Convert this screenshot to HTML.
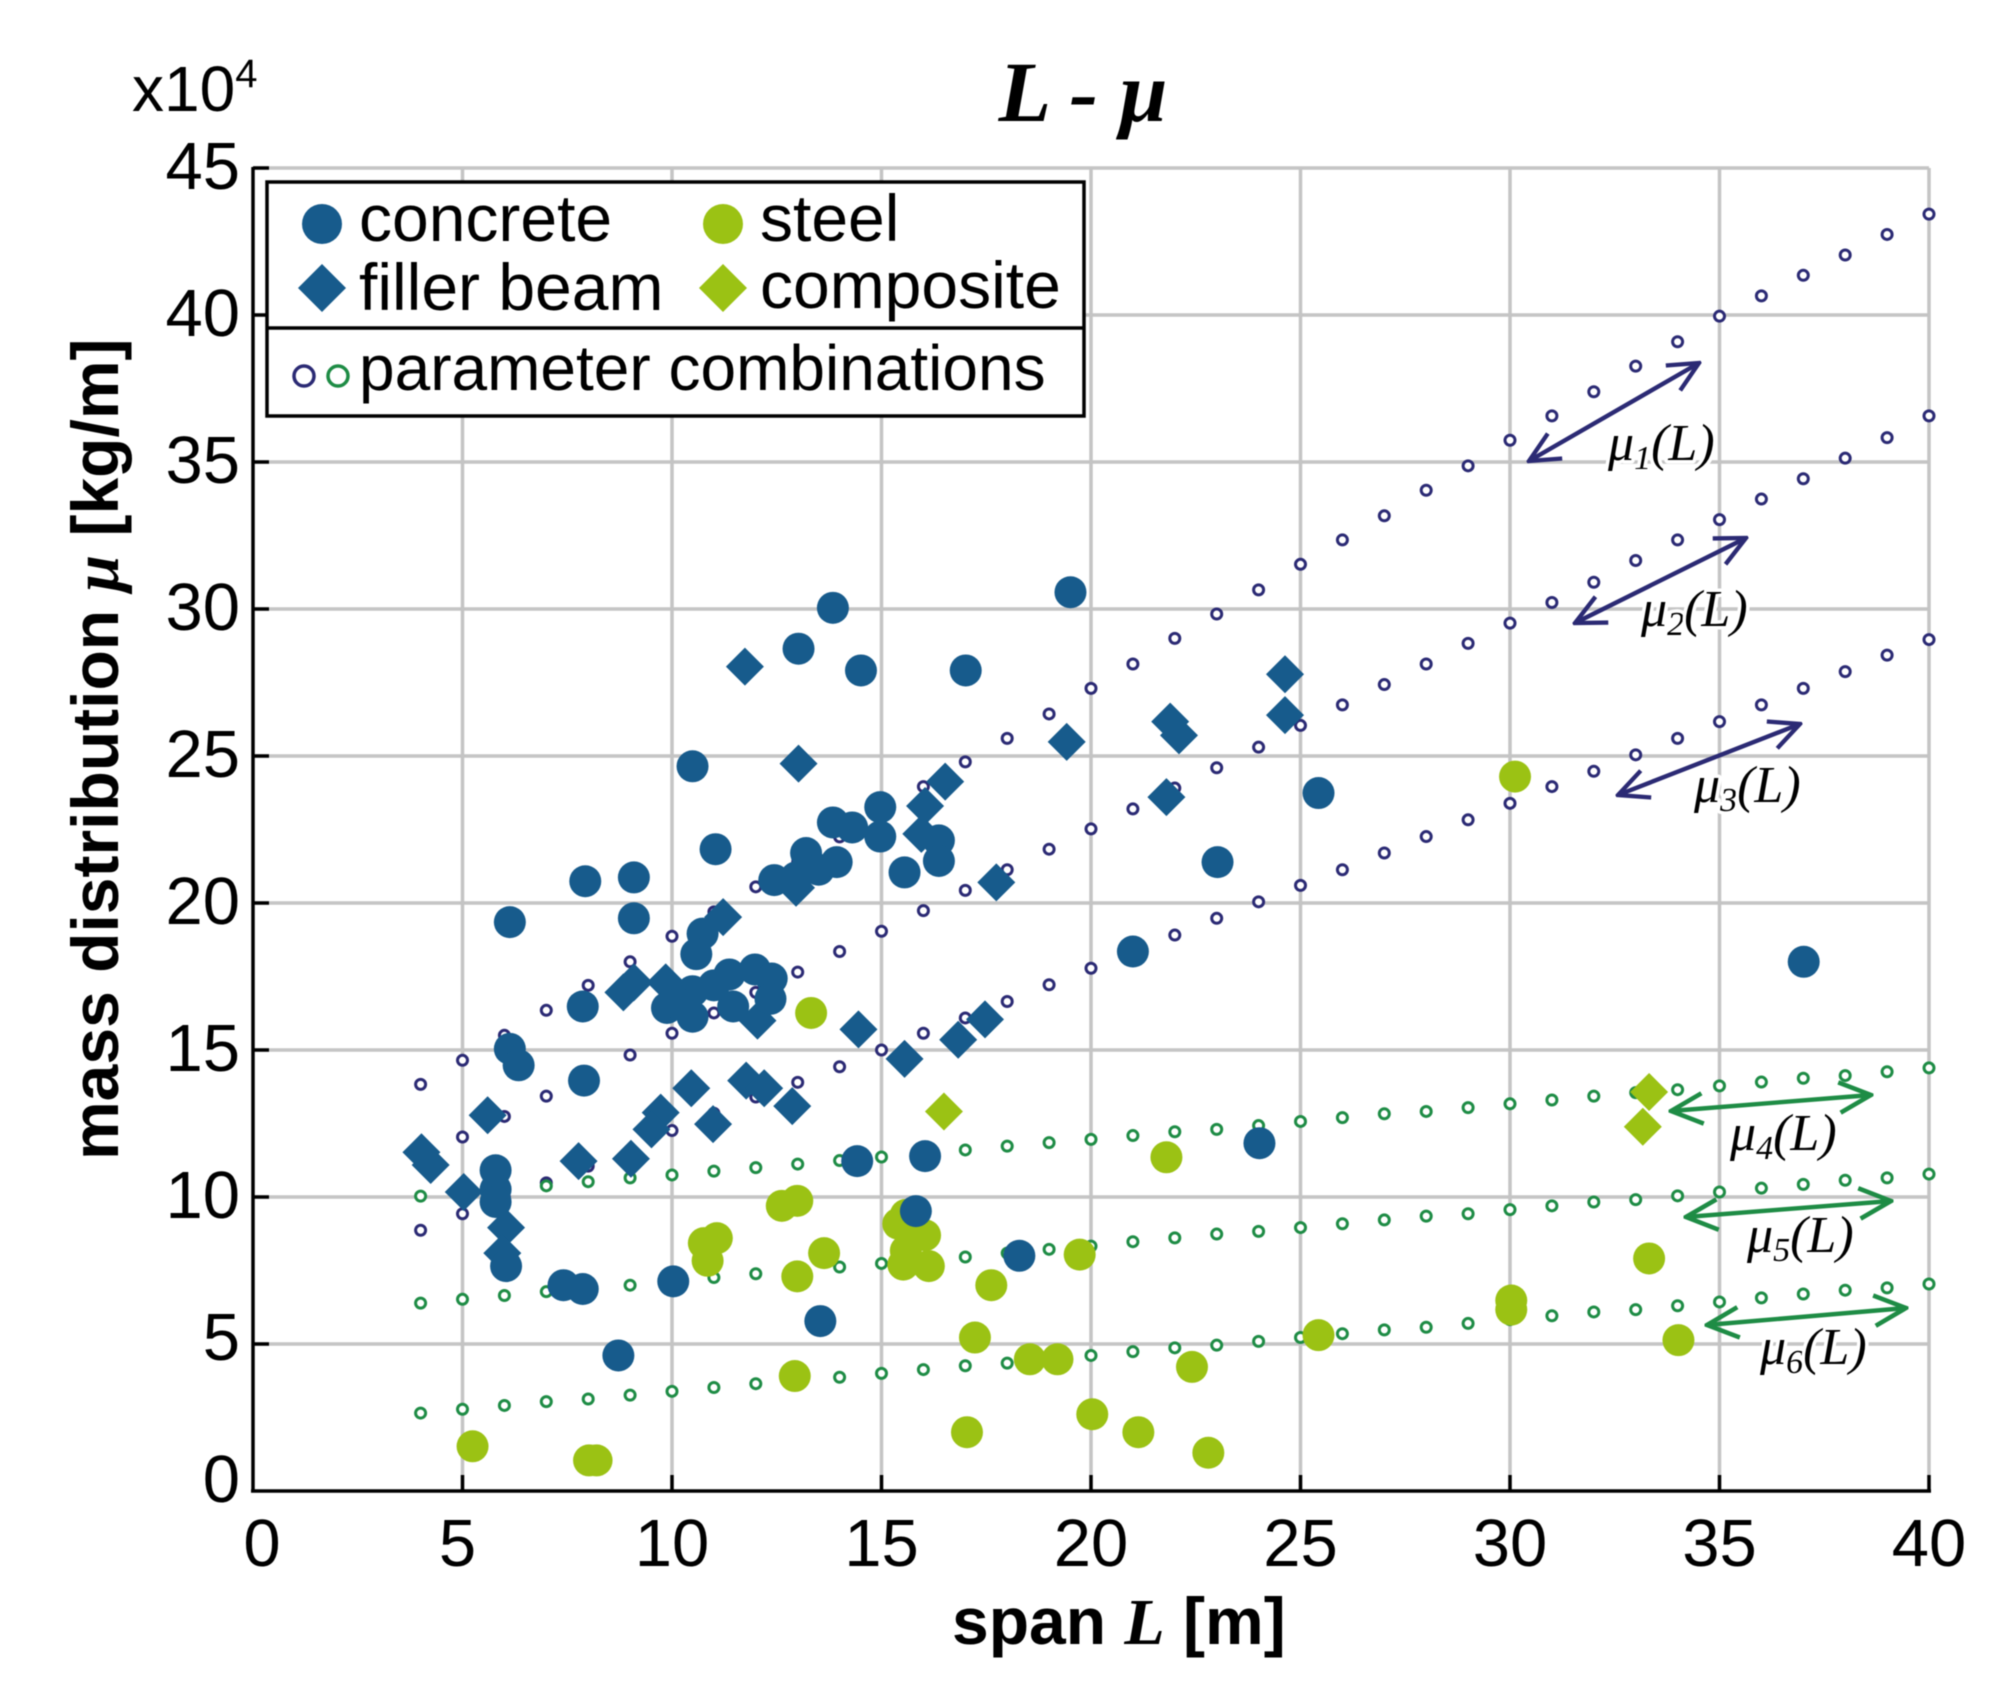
<!DOCTYPE html>
<html lang="en">
<head>
<meta charset="utf-8">
<title>L - mu chart</title>
<style>
html,body{margin:0;padding:0;background:#fff;}
svg{display:block;filter:blur(0.6px);}
text{font-family:"Liberation Sans",sans-serif;fill:#000;}
.tick{font-size:67px;}
.serif{font-family:"Liberation Serif",serif;font-style:italic;}
.leg{font-size:66px;}
.leg-long{font-size:64px;}
.curve-label{font-family:"Liberation Serif",serif;font-style:italic;font-size:52px;stroke:#fff;stroke-width:7px;paint-order:stroke;stroke-linejoin:round;}
</style>
</head>
<body>
<svg id="chart" xmlns="http://www.w3.org/2000/svg" width="2003" height="1702" viewBox="0 0 2003 1702">
  <defs>
    <marker id="navy-head" viewBox="0 0 30 30" refX="28" refY="15" markerWidth="36" markerHeight="36" markerUnits="userSpaceOnUse" orient="auto-start-reverse"><path d="M3 3 L28 15 L3 27" fill="none" stroke="#2b2a74" stroke-width="3.6"/></marker>
    <marker id="green-head" viewBox="0 0 30 30" refX="28" refY="15" markerWidth="38" markerHeight="38" markerUnits="userSpaceOnUse" orient="auto-start-reverse"><path d="M3 3 L28 15 L3 27" fill="none" stroke="#1e8c45" stroke-width="3.6"/></marker>
  </defs>
  <g id="grid"></g>
  <g id="params"></g>
  <g id="marks"></g>
  <g id="axes"></g>

  <g fill="none" stroke-width="4.4">
    <line x1="1529" y1="461" x2="1699" y2="363" stroke="#2b2a74" marker-start="url(#navy-head)" marker-end="url(#navy-head)"/>
    <line x1="1575" y1="623" x2="1746" y2="538" stroke="#2b2a74" marker-start="url(#navy-head)" marker-end="url(#navy-head)"/>
    <line x1="1618" y1="795" x2="1800" y2="724" stroke="#2b2a74" marker-start="url(#navy-head)" marker-end="url(#navy-head)"/>
    <line x1="1671" y1="1111" x2="1871" y2="1095" stroke="#1e8c45" marker-start="url(#green-head)" marker-end="url(#green-head)"/>
    <line x1="1686" y1="1217" x2="1891" y2="1201" stroke="#1e8c45" marker-start="url(#green-head)" marker-end="url(#green-head)"/>
    <line x1="1707" y1="1325" x2="1906" y2="1308" stroke="#1e8c45" marker-start="url(#green-head)" marker-end="url(#green-head)"/>
  </g>
  <g>
    <text class="curve-label" x="1608" y="460">μ<tspan dy="9" font-size="34">1</tspan><tspan dy="-9">(L)</tspan></text>
    <text class="curve-label" x="1641" y="626">μ<tspan dy="9" font-size="34">2</tspan><tspan dy="-9">(L)</tspan></text>
    <text class="curve-label" x="1694" y="802">μ<tspan dy="9" font-size="34">3</tspan><tspan dy="-9">(L)</tspan></text>
    <text class="curve-label" x="1730" y="1150">μ<tspan dy="9" font-size="34">4</tspan><tspan dy="-9">(L)</tspan></text>
    <text class="curve-label" x="1747" y="1252">μ<tspan dy="9" font-size="34">5</tspan><tspan dy="-9">(L)</tspan></text>
    <text class="curve-label" x="1760" y="1364">μ<tspan dy="9" font-size="34">6</tspan><tspan dy="-9">(L)</tspan></text>
  </g>

  <g>
    <rect x="267" y="182" width="817" height="234" fill="#fff" stroke="#000" stroke-width="3.5"/>
    <line x1="267" y1="328" x2="1084" y2="328" stroke="#000" stroke-width="3.5"/>
    <circle cx="322" cy="224" r="20" fill="#175b8c"/>
    <text class="leg" x="359" y="241">concrete</text>
    <circle cx="723" cy="224" r="20" fill="#9bc214"/>
    <text class="leg" x="760" y="241">steel</text>
    <polygon points="322,264 346,288 322,312 298,288" fill="#175b8c"/>
    <text class="leg" x="359" y="310">filler beam</text>
    <polygon points="723,264 747,288 723,312 699,288" fill="#9bc214"/>
    <text class="leg" x="760" y="308">composite</text>
    <circle cx="304" cy="376" r="10" fill="#fff" stroke="#2b2a74" stroke-width="3.5"/>
    <circle cx="338" cy="376" r="10" fill="#fff" stroke="#1e8c45" stroke-width="3.5"/>
    <text class="leg-long" x="359" y="390">parameter combinations</text>
  </g>

  <text x="1083" y="121" text-anchor="middle" font-size="86" font-weight="bold" class="serif">L - μ</text>
  <text x="132" y="111" font-size="64">x10<tspan font-size="40" dy="-24">4</tspan></text>
  <text transform="translate(118,1160) rotate(-90)" font-size="66" font-weight="bold">mass distribution <tspan class="serif">μ</tspan> [kg/m]</text>
  <text x="952" y="1644" font-size="66" font-weight="bold">span <tspan class="serif">L</tspan> [m]</text>
</svg>

<script>
const xTicks = [0, 5, 10, 15, 20, 25, 30, 35, 40];
const yTicks = [0, 5, 10, 15, 20, 25, 30, 35, 40, 45];
const spans = [4,5,6,7,8,9,10,11,12,13,14,15,16,17,18,19,20,21,22,23,24,25,26,27,28,29,30,31,32,33,34,35,36,37,38,39,40];

const mu1 = [13.83,14.65,15.5,16.35,17.2,18.0,18.87,19.7,20.55,21.4,22.25,23.1,23.96,24.8,25.6,26.43,27.3,28.13,29.0,29.83,30.65,31.52,32.35,33.17,34.04,34.87,35.74,36.57,37.39,38.26,39.09,39.96,40.65,41.35,42.04,42.74,43.43];
const mu2 = [11.3,12.04,12.74,13.43,14.13,14.83,15.57,16.26,16.96,17.65,18.35,19.04,19.74,20.43,21.13,21.83,22.52,23.2,23.91,24.6,25.3,26.04,26.74,27.43,28.13,28.83,29.52,30.22,30.91,31.65,32.35,33.04,33.74,34.43,35.13,35.83,36.57];
const mu3 = [8.87,9.43,10.0,10.48,11.05,11.6,12.26,12.85,13.4,13.9,14.43,15.0,15.57,16.09,16.65,17.22,17.78,18.33,18.91,19.48,20.04,20.6,21.13,21.7,22.26,22.83,23.39,23.96,24.48,25.04,25.6,26.17,26.74,27.3,27.87,28.43,28.96];
const mu4 = [10.03,10.1,10.2,10.38,10.52,10.65,10.75,10.88,11.0,11.12,11.24,11.36,11.48,11.6,11.73,11.85,11.96,12.09,12.22,12.3,12.43,12.57,12.7,12.83,12.91,13.04,13.17,13.3,13.43,13.55,13.65,13.78,13.91,14.04,14.13,14.26,14.39];
const mu5 = [6.39,6.52,6.65,6.78,6.9,7.0,7.13,7.26,7.39,7.5,7.62,7.74,7.87,7.96,8.09,8.22,8.33,8.48,8.61,8.74,8.83,8.96,9.09,9.22,9.35,9.43,9.57,9.7,9.83,9.91,10.04,10.17,10.3,10.43,10.57,10.65,10.78];
const mu6 = [2.65,2.78,2.91,3.04,3.13,3.26,3.39,3.52,3.65,3.78,3.87,4.0,4.13,4.26,4.35,4.48,4.61,4.74,4.87,4.96,5.09,5.22,5.35,5.48,5.57,5.7,5.83,5.96,6.09,6.17,6.3,6.43,6.57,6.7,6.83,6.91,7.04];

const concreteL = [13.84,19.51,13.02,14.51,17.01,10.49,25.43,13.84,14.97,14.30,14.97,16.37,15.55,16.37,13.2,12.44,12.96,13.5,13.93,7.93,9.09,6.13,9.09,11.04,10.73,10.58,23.02,21.0,37.01,11.37,11.98,12.38,12.35,11.46,7.87,9.88,10.49,10.49,10.15,11.0,6.13,6.34,7.9,14.42,16.04,24.02,5.79,5.79,5.79,15.82,6.04,18.29,7.41,7.87,10.03,13.54,8.72];
const concreteMu = [30.04,30.57,28.65,27.91,27.91,24.65,23.74,22.74,23.26,22.57,22.26,22.13,21.04,21.43,21.7,20.78,20.87,21.13,21.39,20.74,20.87,19.35,19.48,21.83,18.96,18.26,21.39,18.35,18.0,17.57,17.74,17.43,16.74,16.48,16.48,16.43,16.13,17.0,16.57,17.2,15.04,14.48,13.96,11.22,11.39,11.83,10.91,10.26,9.83,9.52,7.65,8.0,7.0,6.87,7.13,5.78,4.61];

const fillerL = [11.74,24.63,21.89,22.1,24.63,19.42,13.02,16.52,16.04,21.8,15.95,12.96,17.74,11.22,8.84,9.09,9.85,12.04,17.47,16.83,14.45,15.55,5.6,11.77,12.2,10.46,12.87,9.73,9.51,10.98,4.02,4.24,7.77,9.02,5.03,6.04,5.95];
const fillerMu = [28.04,27.78,26.17,25.7,26.39,25.48,24.74,24.13,23.3,23.6,22.35,20.52,20.7,19.52,16.96,17.3,17.3,16.0,16.04,15.35,15.7,14.7,12.78,13.96,13.7,13.7,13.09,12.87,12.3,12.48,11.52,11.09,11.22,11.3,10.17,8.96,8.09];

const steelL = [30.12,13.32,21.8,12.99,12.62,15.4,15.58,16.04,15.58,15.52,16.13,10.76,11.07,10.85,13.63,12.99,17.62,19.73,33.32,30.03,30.03,25.43,34.02,17.23,18.54,19.2,22.41,12.93,20.03,17.04,21.13,22.8,5.24,8.02,8.2];
const steelMu = [24.3,16.26,11.35,9.87,9.7,9.09,9.39,8.7,8.17,7.7,7.65,8.43,8.6,7.83,8.09,7.3,7.0,8.04,7.91,6.48,6.17,5.3,5.13,5.22,4.48,4.48,4.22,3.91,2.61,2.0,2.0,1.3,1.52,1.04,1.04];

const compositeL = [16.49,33.32,33.17];
const compositeMu = [12.91,13.57,12.39];

const SVG_NS = 'http://www.w3.org/2000/svg';
const xScale = function (v) { return 253 + v * 41.9; };
const yScale = function (v) { return 1491 - v * 29.4; };

function make(tag, parent, props) {
  const el = document.createElementNS(SVG_NS, tag);
  Object.keys(props).forEach(function (k) { el.setAttribute(k, props[k]); });
  parent.appendChild(el);
  return el;
}

const gridG = document.getElementById('grid');
const axesG = document.getElementById('axes');
const paramsG = document.getElementById('params');
const marksG = document.getElementById('marks');

xTicks.forEach(function (t) {
  if (t > 0) {
    const g = make('line', gridG, {x1: xScale(t), x2: xScale(t), y1: yScale(0), y2: yScale(45), stroke: '#c4c4c4', 'stroke-width': 3.5});
    
    
    const m = make('line', axesG, {x1: xScale(t), x2: xScale(t), y1: yScale(0), y2: yScale(0) - 16, stroke: '#000', 'stroke-width': 3.5});
    
    
  }
  const dx = t === 0 ? 9 : (t === 5 ? -5 : 0);
  const lab = make('text', axesG, {x: xScale(t) + dx, y: 1566, 'text-anchor': 'middle', class: 'tick'});
  lab.textContent = String(t);
  
  
});

yTicks.forEach(function (t) {
  if (t > 0) {
    const g = make('line', gridG, {x1: xScale(0), x2: xScale(40), y1: yScale(t), y2: yScale(t), stroke: '#c4c4c4', 'stroke-width': 3.5});
    
    
    const m = make('line', axesG, {x1: xScale(0), x2: xScale(0) + 16, y1: yScale(t), y2: yScale(t), stroke: '#000', 'stroke-width': 3.5});
    
    
  }
  const dy = t === 0 ? -10 : (t === 5 ? -5 : 0);
  const lab = make('text', axesG, {x: 240, y: yScale(t) + 21 + dy, 'text-anchor': 'end', class: 'tick'});
  lab.textContent = String(t);
  
  
});

const xAxisLine = make('line', axesG, {x1: xScale(0) - 2, x2: xScale(40) + 2, y1: yScale(0), y2: yScale(0), stroke: '#000', 'stroke-width': 3.5});


const yAxisLine = make('line', axesG, {x1: xScale(0), x2: xScale(0), y1: yScale(0), y2: yScale(45) - 1, stroke: '#000', 'stroke-width': 3.5});



function drawParams(values, color) {
  values.forEach(function (v, i) {
    const c = make('circle', paramsG, {cx: xScale(spans[i]), cy: yScale(v), r: 5, fill: '#fff', stroke: color, 'stroke-width': 3});
    
    
  });
}
drawParams(mu1, '#2b2a74');
drawParams(mu2, '#2b2a74');
drawParams(mu3, '#2b2a74');
drawParams(mu4, '#1e8c45');
drawParams(mu5, '#1e8c45');
drawParams(mu6, '#1e8c45');

function drawCircles(xs, ys, color) {
  xs.forEach(function (x, i) {
    const c = make('circle', marksG, {cx: xScale(x), cy: yScale(ys[i]), r: 16, fill: color});
    
    
  });
}
function drawDiamonds(xs, ys, color) {
  xs.forEach(function (x, i) {
    const cx = xScale(x), cy = yScale(ys[i]), h = 19;
    const p = make('polygon', marksG, {points: cx + ',' + (cy - h) + ' ' + (cx + h) + ',' + cy + ' ' + cx + ',' + (cy + h) + ' ' + (cx - h) + ',' + cy, fill: color});
    
    
  });
}
drawCircles(steelL, steelMu, '#9bc214');
drawDiamonds(compositeL, compositeMu, '#9bc214');
drawDiamonds(fillerL, fillerMu, '#175b8c');
drawCircles(concreteL, concreteMu, '#175b8c');
</script>
</body>
</html>
